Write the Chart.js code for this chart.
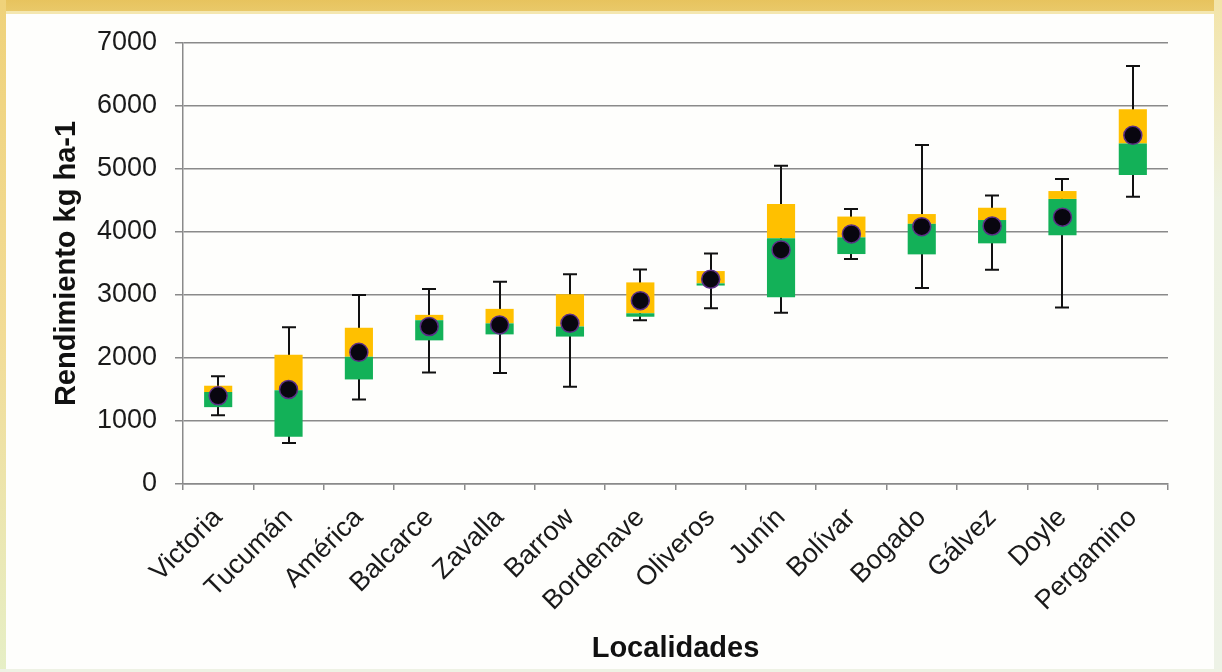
<!DOCTYPE html>
<html lang="es">
<head>
<meta charset="utf-8">
<title>Rendimiento por localidad</title>
<script src="https://cdn.jsdelivr.net/npm/chart.js@4.4.1/dist/chart.umd.min.js"></script>
<style>
  html, body { margin: 0; padding: 0; background: #ffffff; }
  #frame { position: relative; width: 1222px; height: 672px; overflow: hidden; background: #fefefc; }
  #topband { position: absolute; left: 0; top: 0; width: 1222px; height: 11px;
    background: linear-gradient(to bottom, #e7c35e, #e9c969); }
  #topline { position: absolute; left: 0; top: 11px; width: 1222px; height: 3px; background: #f4e7b0; }
  #leftband { position: absolute; left: 0; top: 0; width: 6px; height: 672px;
    background: linear-gradient(to bottom, #efd27a 0%, #f2dc96 50%, #e6efc6 100%); }
  #rightband { position: absolute; right: 0; top: 0; width: 8px; height: 672px;
    background: linear-gradient(to bottom, #f3e4a8 0%, #eef2e2 30%, #edf2e6 100%); }
  #bottomband { position: absolute; left: 0; bottom: 0; width: 1222px; height: 3px; background: #eef2e4; }
  #chart { position: absolute; left: 0; top: 0; }
</style>
</head>
<body>
<div id="frame">
  <div id="topband"></div>
  <div id="topline"></div>
  <div id="leftband"></div>
  <div id="rightband"></div>
  <div id="bottomband"></div>
  <canvas id="chart" width="1222" height="672"></canvas>
</div>
<script>
// Localidades y estadísticos del rendimiento (kg ha-1)
const localidades = ['Victoria', 'Tucumán', 'América', 'Balcarce', 'Zavalla', 'Barrow', 'Bordenave',
                     'Oliveros', 'Junín', 'Bolívar', 'Bogado', 'Gálvez', 'Doyle', 'Pergamino'];
const minimo  = [1090,  650, 1340, 1770, 1760, 1545, 2600, 2790, 2720, 3570, 3110, 3400, 2800, 4560];
const q1      = [1220,  750, 1660, 2280, 2375, 2340, 2655, 3150, 2965, 3650, 3645, 3820, 3950, 4905];
const mediana = [1460, 1490, 2020, 2600, 2550, 2500, 2710, 3185, 3900, 3915, 4130, 4190, 4525, 5405];
const q3      = [1560, 2050, 2480, 2685, 2780, 3010, 3200, 3380, 4445, 4245, 4285, 4385, 4650, 5950];
const maximo  = [1710, 2490, 3000, 3095, 3210, 3330, 3405, 3660, 5050, 4365, 5380, 4580, 4840, 6635];
const media   = [1400, 1500, 2090, 2500, 2525, 2550, 2910, 3250, 3715, 3970, 4085, 4095, 4235, 5535];
const yTicks  = [0, 1000, 2000, 3000, 4000, 5000, 6000, 7000];

const FONT = "'Liberation Sans', Arial, sans-serif";

// Bigotes: línea vertical del mínimo al máximo con remates horizontales
const bigotes = {
  id: 'bigotes',
  beforeDatasetsDraw(chart) {
    const { ctx, scales: { x, y } } = chart;
    ctx.save();
    ctx.strokeStyle = '#111111';
    ctx.lineWidth = 2;
    localidades.forEach((_, i) => {
      const cx = Math.round(x.getPixelForValue(i));
      const yMin = y.getPixelForValue(minimo[i]);
      const yMax = y.getPixelForValue(maximo[i]);
      const half = 7;
      ctx.beginPath();
      ctx.moveTo(cx, yMin); ctx.lineTo(cx, yMax);
      ctx.moveTo(cx - half, yMin); ctx.lineTo(cx + half, yMin);
      ctx.moveTo(cx - half, yMax); ctx.lineTo(cx + half, yMax);
      ctx.stroke();
    });
    ctx.restore();
  }
};

new Chart(document.getElementById('chart'), {
  type: 'bar',
  data: {
    labels: localidades,
    datasets: [
      {
        label: 'Media',
        type: 'line',
        data: media,
        showLine: false,
        pointRadius: 9,
        pointHoverRadius: 9,
        pointBackgroundColor: '#08060f',
        pointBorderColor: '#5b2f86',
        pointBorderWidth: 1.5,
        order: 0
      },
      {
        label: 'Q1 - Mediana',
        data: localidades.map((_, i) => [q1[i], mediana[i]]),
        backgroundColor: '#13b158',
        borderWidth: 0,
        grouped: false,
        barPercentage: 0.4,
        categoryPercentage: 1.0,
        order: 2
      },
      {
        label: 'Mediana - Q3',
        data: localidades.map((_, i) => [mediana[i], q3[i]]),
        backgroundColor: '#ffc000',
        borderWidth: 0,
        grouped: false,
        barPercentage: 0.4,
        categoryPercentage: 1.0,
        order: 2
      }
    ]
  },
  options: {
    responsive: false,
    animation: false,
    layout: { padding: { left: 50, right: 54, top: 43, bottom: 4 } },
    plugins: { legend: { display: false }, tooltip: { enabled: false } },
    scales: {
      x: {
        offset: true,
        grid: { display: true, drawOnChartArea: false, offset: true, color: '#8a8a8a', lineWidth: 1.5, tickLength: 6 },
        border: { color: '#8a8a8a', width: 1.5 },
        ticks: {
          autoSkip: false, minRotation: 45, maxRotation: 45, padding: 12,
          color: '#1a1a1a', font: { family: FONT, size: 27 }
        },
        title: {
          display: true, text: 'Localidades', color: '#111111',
          font: { family: FONT, size: 29, weight: 'bold' }, padding: { top: 4, bottom: 2 }
        },
        afterFit(scale) { scale.height = 184; }
      },
      y: {
        min: 0, max: 7000,
        afterBuildTicks(scale) { scale.ticks = yTicks.map(v => ({ value: v })); },
        grid: { color: '#8a8a8a', lineWidth: 1.5, tickLength: 8 },
        border: { color: '#8a8a8a', width: 1.5 },
        ticks: {
          padding: 18, color: '#1a1a1a', font: { family: FONT, size: 27 },
          callback: (v) => String(v)
        },
        title: {
          display: true, text: 'Rendimiento kg ha-1', color: '#111111',
          font: { family: FONT, size: 29, weight: 'bold' }, padding: { top: 0, bottom: 4 }
        },
        afterFit(scale) { scale.width = 133; }
      }
    }
  },
  plugins: [bigotes]
});
</script>
</body>
</html>
